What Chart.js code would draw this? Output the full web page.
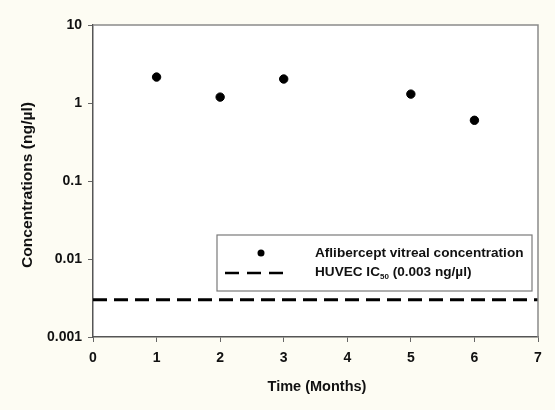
<!DOCTYPE html>
<html>
<head>
<meta charset="utf-8">
<script src="https://cdn.jsdelivr.net/npm/chart.js@4/dist/chart.umd.min.js"></script>
<style>
html,body{margin:0;padding:0;background:#fdfcf3;}
#wrap{width:555px;height:410px;}
</style>
</head>
<body>
<div id="wrap"><canvas id="c" width="555" height="410"></canvas></div>
<script>
const months = [1, 2, 3, 5, 6];
const concentrations = [2.15, 1.19, 2.03, 1.30, 0.60];
const ic50Value = 0.003;
const ic50Span = [0, 7];
const yTickValues = [0.001, 0.01, 0.1, 1, 10];
const xTickValues = [0, 1, 2, 3, 4, 5, 6, 7];
const seriesNames = ['Aflibercept vitreal concentration', 'HUVEC IC', '50', ' (0.003 ng/\u00b5l)'];
const xTitle = 'Time (Months)';
const yTitle = 'Concentrations (ng/\u00b5l)';

const FONT = '"Liberation Sans", Arial, sans-serif';

const bgPlugin = {
  id: 'bg',
  beforeDraw(chart) {
    const {ctx, chartArea: a} = chart;
    ctx.save();
    ctx.fillStyle = '#fdfcf3';
    ctx.fillRect(0, 0, chart.width, chart.height);
    ctx.fillStyle = '#ffffff';
    ctx.fillRect(a.left, a.top, a.right - a.left, a.bottom - a.top);
    ctx.restore();
  },
  afterDraw(chart) {
    const {ctx, chartArea: a} = chart;
    ctx.save();
    // top and right frame
    ctx.strokeStyle = '#8a8a8a';
    ctx.lineWidth = 1.5;
    ctx.beginPath();
    ctx.moveTo(a.left, a.top);
    ctx.lineTo(a.right, a.top);
    ctx.lineTo(a.right, a.bottom);
    ctx.stroke();
    // axis titles
    ctx.fillStyle = '#111';
    ctx.textAlign = 'center';
    ctx.textBaseline = 'middle';
    ctx.font = 'bold 14.5px ' + FONT;
    ctx.fillText(xTitle, 317, 387);
    ctx.save();
    ctx.translate(28, 185);
    ctx.rotate(-Math.PI / 2);
    ctx.font = 'bold 15px ' + FONT;
    const tw = ctx.measureText(yTitle).width;
    ctx.scale(166 / tw, 1);
    ctx.fillText(yTitle, 0, 0);
    ctx.restore();
    // legend box
    const lx = 217, ly = 235, lw = 315, lh = 56;
    ctx.fillStyle = '#ffffff';
    ctx.fillRect(lx, ly, lw, lh);
    ctx.strokeStyle = '#7a7a7a';
    ctx.lineWidth = 1.2;
    ctx.strokeRect(lx, ly, lw, lh);
    // marker
    ctx.fillStyle = '#000';
    ctx.beginPath();
    ctx.arc(261, 253, 3.5, 0, Math.PI * 2);
    ctx.fill();
    // dashed sample
    ctx.strokeStyle = '#000';
    ctx.lineWidth = 2.5;
    ctx.setLineDash([14, 8]);
    ctx.beginPath();
    ctx.moveTo(225, 273);
    ctx.lineTo(291, 273);
    ctx.stroke();
    ctx.setLineDash([]);
    // texts
    ctx.fillStyle = '#111';
    ctx.textBaseline = 'middle';
    ctx.textAlign = 'left';
    ctx.font = 'bold 13.6px ' + FONT;
    ctx.fillText(seriesNames[0], 315, 253);
    ctx.fillText(seriesNames[1], 315, 272);
    let w = ctx.measureText(seriesNames[1]).width;
    ctx.font = 'bold 8px ' + FONT;
    ctx.fillText(seriesNames[2], 315 + w, 277);
    let w2 = ctx.measureText(seriesNames[2]).width;
    ctx.font = 'bold 13.6px ' + FONT;
    ctx.fillText(seriesNames[3], 315 + w + w2, 272);
    ctx.restore();
  }
};

new Chart(document.getElementById('c'), {
  type: 'scatter',
  data: {
    datasets: [
      {
        label: 'HUVEC IC50 (0.003 ng/\u00b5l)',
        type: 'line',
        data: ic50Span.map(x => ({x: x, y: ic50Value})),
        borderColor: '#000',
        borderWidth: 3,
        borderDash: [14, 7],
        pointRadius: 0,
        fill: false
      },
      {
        label: 'Aflibercept vitreal concentration',
        data: months.map((m, i) => ({x: m, y: concentrations[i]})),
        backgroundColor: '#000',
        borderColor: '#000',
        pointRadius: 4.2,
        pointHoverRadius: 4.2
      }
    ]
  },
  options: {
    responsive: false,
    animation: false,
    devicePixelRatio: 1,
    layout: {padding: {left: 0, right: 17, top: 25, bottom: 0}},
    plugins: {legend: {display: false}, tooltip: {enabled: false}},
    scales: {
      x: {
        type: 'linear',
        min: 0, max: 7,
        afterBuildTicks(scale) { scale.ticks = xTickValues.map(v => ({value: v})); },
        afterFit(scale) { scale.height = 73; },
        grid: {display: true, drawOnChartArea: false, drawTicks: true, tickLength: 5, color: '#666', lineWidth: 1},
        border: {display: true, color: '#555', width: 1.5},
        ticks: {color: '#111', font: {family: FONT, size: 14, weight: 'bold'}, padding: 8, maxRotation: 0},
        title: {display: false}
      },
      y: {
        type: 'logarithmic',
        min: 0.001, max: 10,
        afterBuildTicks(scale) { scale.ticks = yTickValues.map(v => ({value: v})); },
        afterFit(scale) { scale.width = 93; },
        grid: {display: true, drawOnChartArea: false, drawTicks: true, tickLength: 5, color: '#666', lineWidth: 1},
        border: {display: true, color: '#555', width: 1.5},
        ticks: {
          color: '#111',
          font: {family: FONT, size: 14, weight: 'bold'},
          padding: 6,
          callback: v => String(v)
        },
        title: {display: false}
      }
    }
  },
  plugins: [bgPlugin]
});
</script>
</body>
</html>
